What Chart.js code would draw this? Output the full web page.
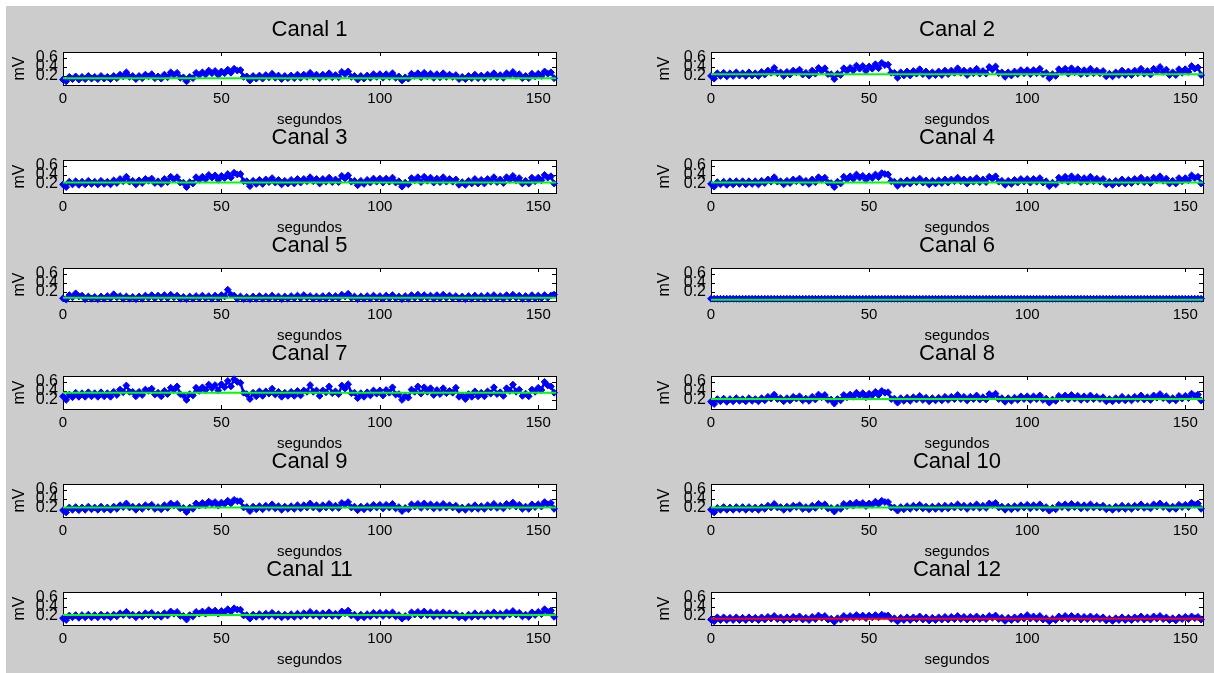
<!DOCTYPE html>
<html>
<head>
<meta charset="utf-8">
<script src="https://cdn.jsdelivr.net/npm/chart.js@4/dist/chart.umd.min.js"></script>
<style>
  html, body { margin: 0; padding: 0; background: #ffffff; }
  body { width: 1214px; height: 673px; position: relative; overflow: hidden; }
  #fig { position: absolute; left: 6px; top: 6px; width: 1208px; height: 667px; background: #cccccc; }
  canvas.sub { position: absolute; }
</style>
</head>
<body>
<div id="fig"></div>
<script>
// Sample times (s)
const tiempo = [0,1,2,3,4,5,6,7,8,9,10,11,12,13,14,15,16,17,18,19,20,21,22,23,24,25,26,27,28,29,
  30,31,32,33,34,35,36,37,38,39,40,41,42,43,44,45,46,47,48,49,50,51,52,53,54,55,56,57,58,59,
  60,61,62,63,64,65,66,67,68,69,70,71,72,73,74,75,76,77,78,79,80,81,82,83,84,85,86,87,88,89,
  90,91,92,93,94,95,96,97,98,99,100,101,102,103,104,105,106,107,108,109,110,111,112,113,114,115,116,117,118,119,
  120,121,122,123,124,125,126,127,128,129,130,131,132,133,134,135,136,137,138,139,140,141,142,143,144,145,146,147,148,149,
  150,151,152,153,154,155];

// Channel amplitudes (mV)
const canal1 = [0.12,0.08,0.18,0.13,0.19,0.12,0.18,0.13,0.2,0.14, 0.18,0.13,0.2,0.14,0.18,0.13,0.2,0.15,0.23,0.19,
  0.28,0.18,0.2,0.13,0.2,0.15,0.23,0.19,0.24,0.15, 0.19,0.14,0.23,0.17,0.28,0.22,0.27,0.16,0.17,0.08,
  0.18,0.15,0.27,0.22,0.28,0.23,0.32,0.26,0.31,0.22, 0.3,0.26,0.34,0.27,0.36,0.32,0.33,0.18,0.19,0.1,
  0.2,0.14,0.21,0.14,0.22,0.17,0.25,0.16,0.21,0.13, 0.2,0.15,0.21,0.15,0.23,0.16,0.23,0.18,0.27,0.18,
  0.23,0.15,0.23,0.18,0.26,0.17,0.22,0.17,0.29,0.24, 0.3,0.18,0.2,0.12,0.2,0.14,0.21,0.16,0.24,0.18,
  0.24,0.16,0.24,0.18,0.26,0.16,0.19,0.1,0.17,0.14, 0.25,0.2,0.26,0.17,0.27,0.19,0.25,0.16,0.24,0.17,
  0.26,0.18,0.23,0.18,0.22,0.13,0.18,0.13,0.2,0.15, 0.23,0.15,0.21,0.15,0.23,0.18,0.26,0.17,0.22,0.16,
  0.26,0.21,0.29,0.2,0.24,0.15,0.2,0.15,0.25,0.19, 0.25,0.2,0.3,0.25,0.28,0.15];
const canal2 = [0.2,0.14,0.26,0.2,0.27,0.19,0.26,0.2,0.28,0.21, 0.26,0.2,0.28,0.21,0.26,0.2,0.29,0.23,0.32,0.27,
  0.38,0.26,0.28,0.2,0.29,0.23,0.32,0.28,0.34,0.23, 0.27,0.21,0.32,0.25,0.38,0.31,0.37,0.24,0.24,0.13,
  0.25,0.22,0.37,0.31,0.38,0.32,0.43,0.36,0.42,0.31, 0.41,0.36,0.46,0.37,0.49,0.44,0.45,0.27,0.27,0.16,
  0.28,0.21,0.3,0.21,0.31,0.25,0.35,0.24,0.3,0.2, 0.28,0.22,0.3,0.22,0.32,0.24,0.32,0.27,0.37,0.27,
  0.32,0.22,0.32,0.26,0.36,0.25,0.31,0.25,0.4,0.34, 0.41,0.26,0.28,0.18,0.28,0.21,0.3,0.24,0.33,0.26,
  0.33,0.24,0.33,0.26,0.36,0.24,0.27,0.15,0.24,0.2, 0.35,0.29,0.36,0.25,0.37,0.28,0.35,0.24,0.33,0.25,
  0.36,0.26,0.32,0.26,0.31,0.19,0.25,0.19,0.28,0.22, 0.32,0.22,0.3,0.22,0.32,0.26,0.36,0.25,0.31,0.23,
  0.36,0.3,0.4,0.29,0.34,0.22,0.28,0.22,0.35,0.27, 0.35,0.29,0.42,0.36,0.39,0.22];
const canal3 = [0.19,0.13,0.25,0.19,0.26,0.18,0.25,0.19,0.27,0.2, 0.25,0.19,0.27,0.2,0.25,0.19,0.28,0.22,0.31,0.26,
  0.36,0.25,0.27,0.19,0.28,0.22,0.31,0.27,0.32,0.22, 0.26,0.2,0.31,0.24,0.36,0.3,0.35,0.23,0.23,0.13,
  0.24,0.21,0.35,0.29,0.36,0.3,0.4,0.34,0.39,0.29, 0.38,0.33,0.42,0.34,0.45,0.41,0.42,0.26,0.26,0.15,
  0.27,0.2,0.29,0.2,0.3,0.24,0.33,0.23,0.29,0.19, 0.27,0.21,0.29,0.21,0.31,0.23,0.31,0.26,0.35,0.26,
  0.31,0.21,0.31,0.25,0.34,0.24,0.3,0.24,0.38,0.32, 0.39,0.25,0.27,0.17,0.27,0.2,0.29,0.23,0.32,0.25,
  0.32,0.23,0.32,0.25,0.34,0.23,0.26,0.14,0.23,0.19, 0.33,0.28,0.35,0.24,0.36,0.27,0.34,0.23,0.32,0.24,
  0.35,0.25,0.31,0.25,0.3,0.18,0.24,0.18,0.27,0.21, 0.31,0.21,0.29,0.21,0.31,0.25,0.35,0.24,0.3,0.22,
  0.35,0.29,0.38,0.28,0.33,0.21,0.27,0.21,0.34,0.26, 0.34,0.28,0.4,0.34,0.37,0.21];
const canal4 = [0.2,0.14,0.24,0.19,0.25,0.18,0.26,0.19,0.26,0.2, 0.26,0.19,0.26,0.2,0.26,0.19,0.27,0.22,0.3,0.25,
  0.35,0.25,0.26,0.19,0.27,0.22,0.3,0.26,0.32,0.23, 0.27,0.2,0.3,0.24,0.35,0.29,0.34,0.23,0.22,0.13,
  0.25,0.21,0.36,0.3,0.37,0.31,0.41,0.34,0.38,0.29, 0.37,0.33,0.41,0.35,0.44,0.42,0.41,0.26,0.25,0.16,
  0.26,0.2,0.28,0.21,0.29,0.24,0.32,0.23,0.28,0.19, 0.27,0.21,0.28,0.22,0.3,0.23,0.3,0.26,0.34,0.26,
  0.3,0.21,0.3,0.25,0.33,0.24,0.3,0.24,0.36,0.31, 0.37,0.25,0.27,0.18,0.27,0.2,0.29,0.23,0.31,0.25,
  0.31,0.23,0.31,0.25,0.33,0.23,0.26,0.15,0.23,0.19, 0.34,0.28,0.36,0.25,0.37,0.28,0.35,0.24,0.33,0.25,
  0.36,0.26,0.32,0.25,0.31,0.19,0.25,0.18,0.27,0.21, 0.3,0.21,0.29,0.22,0.31,0.25,0.34,0.24,0.3,0.22,
  0.34,0.28,0.37,0.27,0.32,0.21,0.27,0.21,0.33,0.26, 0.33,0.28,0.39,0.33,0.36,0.21];
const canal5 = [0.06,0.03,0.13,0.08,0.17,0.1,0.12,0.04,0.1,0.05, 0.09,0.04,0.1,0.05,0.11,0.06,0.15,0.08,0.11,0.05,
  0.1,0.05,0.09,0.04,0.1,0.05,0.12,0.07,0.13,0.06, 0.12,0.07,0.13,0.06,0.14,0.08,0.12,0.05,0.09,0.04,
  0.1,0.05,0.11,0.06,0.12,0.06,0.11,0.05,0.12,0.06, 0.13,0.1,0.25,0.14,0.12,0.05,0.1,0.04,0.09,0.04,
  0.1,0.05,0.11,0.05,0.1,0.05,0.12,0.06,0.1,0.04, 0.1,0.05,0.11,0.06,0.12,0.06,0.13,0.07,0.11,0.05,
  0.1,0.05,0.11,0.05,0.12,0.06,0.11,0.06,0.14,0.1, 0.16,0.07,0.1,0.04,0.1,0.05,0.11,0.05,0.12,0.06,
  0.11,0.05,0.12,0.06,0.13,0.06,0.1,0.04,0.11,0.05, 0.13,0.07,0.14,0.06,0.13,0.07,0.12,0.05,0.13,0.06,
  0.14,0.07,0.12,0.06,0.11,0.05,0.1,0.04,0.11,0.05, 0.12,0.06,0.11,0.05,0.12,0.06,0.13,0.06,0.11,0.05,
  0.13,0.07,0.14,0.07,0.12,0.05,0.11,0.05,0.13,0.06, 0.12,0.06,0.13,0.07,0.12,0.14];
const canal6 = [0.05,0.05,0.05,0.05,0.05,0.05,0.05,0.05,0.05,0.05, 0.05,0.05,0.05,0.05,0.05,0.05,0.05,0.05,0.05,0.05,
  0.05,0.05,0.05,0.05,0.05,0.05,0.05,0.05,0.05,0.05, 0.05,0.05,0.05,0.05,0.05,0.05,0.05,0.05,0.05,0.05,
  0.05,0.05,0.05,0.05,0.05,0.05,0.05,0.05,0.05,0.05, 0.05,0.05,0.05,0.05,0.05,0.05,0.05,0.05,0.05,0.05,
  0.05,0.05,0.05,0.05,0.05,0.05,0.05,0.05,0.05,0.05, 0.05,0.05,0.05,0.05,0.05,0.05,0.05,0.05,0.05,0.05,
  0.05,0.05,0.05,0.05,0.05,0.05,0.05,0.05,0.05,0.05, 0.05,0.05,0.05,0.05,0.05,0.05,0.05,0.05,0.05,0.05,
  0.05,0.05,0.05,0.05,0.05,0.05,0.05,0.05,0.05,0.05, 0.05,0.05,0.05,0.05,0.05,0.05,0.05,0.05,0.05,0.05,
  0.05,0.05,0.05,0.05,0.05,0.05,0.05,0.05,0.05,0.05, 0.05,0.05,0.05,0.05,0.05,0.05,0.05,0.05,0.05,0.05,
  0.05,0.05,0.05,0.05,0.05,0.05,0.05,0.05,0.05,0.05, 0.05,0.05,0.05,0.05,0.05,0.05];
const canal7 = [0.28,0.2,0.32,0.26,0.36,0.27,0.35,0.27,0.37,0.28, 0.35,0.27,0.37,0.28,0.35,0.27,0.38,0.31,0.43,0.37,
  0.52,0.38,0.38,0.28,0.38,0.31,0.43,0.4,0.45,0.32, 0.36,0.28,0.4,0.33,0.47,0.42,0.5,0.33,0.3,0.2,
  0.33,0.3,0.47,0.4,0.48,0.42,0.54,0.46,0.53,0.41, 0.55,0.48,0.62,0.5,0.66,0.6,0.58,0.36,0.33,0.22,
  0.36,0.28,0.39,0.29,0.39,0.34,0.45,0.32,0.38,0.27, 0.36,0.29,0.38,0.29,0.4,0.3,0.41,0.38,0.53,0.38,
  0.41,0.29,0.41,0.37,0.5,0.35,0.39,0.33,0.52,0.45, 0.55,0.35,0.36,0.24,0.35,0.27,0.37,0.3,0.41,0.34,
  0.41,0.3,0.42,0.36,0.48,0.32,0.33,0.2,0.29,0.25, 0.43,0.38,0.5,0.34,0.48,0.38,0.46,0.31,0.42,0.33,
  0.46,0.35,0.4,0.36,0.47,0.27,0.3,0.22,0.33,0.27, 0.39,0.28,0.36,0.28,0.39,0.34,0.48,0.33,0.37,0.29,
  0.46,0.4,0.54,0.38,0.43,0.29,0.34,0.28,0.43,0.38, 0.47,0.42,0.6,0.52,0.5,0.36];
const canal8 = [0.16,0.11,0.22,0.17,0.23,0.16,0.22,0.17,0.24,0.18, 0.22,0.17,0.24,0.18,0.22,0.17,0.24,0.19,0.27,0.23,
  0.32,0.22,0.24,0.17,0.24,0.19,0.27,0.23,0.28,0.19, 0.23,0.18,0.27,0.21,0.32,0.26,0.31,0.2,0.21,0.12,
  0.22,0.19,0.31,0.26,0.32,0.27,0.36,0.3,0.35,0.26, 0.34,0.3,0.38,0.31,0.4,0.36,0.37,0.22,0.23,0.14,
  0.24,0.18,0.25,0.18,0.26,0.21,0.29,0.2,0.25,0.17, 0.24,0.19,0.25,0.19,0.27,0.2,0.27,0.22,0.31,0.22,
  0.27,0.19,0.27,0.22,0.3,0.21,0.26,0.21,0.33,0.28, 0.34,0.22,0.24,0.16,0.24,0.18,0.25,0.2,0.28,0.22,
  0.28,0.2,0.28,0.22,0.3,0.2,0.23,0.14,0.21,0.18, 0.29,0.24,0.3,0.21,0.31,0.23,0.29,0.2,0.28,0.21,
  0.3,0.22,0.27,0.22,0.26,0.17,0.22,0.17,0.24,0.19, 0.27,0.19,0.25,0.19,0.27,0.22,0.3,0.21,0.26,0.2,
  0.3,0.25,0.33,0.24,0.28,0.19,0.24,0.19,0.29,0.23, 0.29,0.24,0.34,0.29,0.32,0.19];
const canal9 = [0.15,0.1,0.21,0.16,0.22,0.15,0.21,0.16,0.23,0.17, 0.21,0.16,0.23,0.17,0.21,0.16,0.23,0.18,0.26,0.22,
  0.3,0.21,0.23,0.16,0.23,0.18,0.26,0.22,0.27,0.18, 0.22,0.17,0.26,0.2,0.3,0.25,0.29,0.19,0.2,0.11,
  0.21,0.18,0.3,0.25,0.31,0.26,0.34,0.29,0.33,0.25, 0.32,0.29,0.36,0.3,0.38,0.35,0.35,0.21,0.22,0.13,
  0.23,0.17,0.24,0.17,0.25,0.2,0.28,0.19,0.24,0.16, 0.23,0.18,0.24,0.18,0.26,0.19,0.26,0.21,0.3,0.21,
  0.26,0.18,0.26,0.21,0.29,0.2,0.25,0.2,0.31,0.27, 0.33,0.21,0.23,0.15,0.23,0.17,0.24,0.19,0.27,0.21,
  0.27,0.19,0.27,0.21,0.29,0.19,0.22,0.13,0.2,0.17, 0.28,0.23,0.29,0.2,0.3,0.22,0.28,0.19,0.27,0.2,
  0.29,0.21,0.26,0.21,0.25,0.16,0.21,0.16,0.23,0.18, 0.26,0.18,0.24,0.18,0.26,0.21,0.29,0.2,0.25,0.19,
  0.29,0.24,0.32,0.23,0.27,0.18,0.23,0.18,0.28,0.22, 0.28,0.23,0.33,0.28,0.31,0.18];
const canal10 = [0.16,0.1,0.2,0.16,0.22,0.16,0.21,0.16,0.22,0.17, 0.22,0.16,0.22,0.17,0.21,0.16,0.22,0.18,0.25,0.21,
  0.29,0.21,0.22,0.16,0.23,0.18,0.25,0.22,0.26,0.18, 0.22,0.17,0.25,0.2,0.29,0.24,0.28,0.19,0.2,0.12,
  0.21,0.18,0.29,0.24,0.3,0.25,0.32,0.27,0.31,0.24, 0.3,0.27,0.34,0.28,0.36,0.33,0.33,0.21,0.21,0.14,
  0.22,0.17,0.24,0.18,0.25,0.2,0.27,0.19,0.23,0.17, 0.23,0.18,0.24,0.18,0.25,0.19,0.25,0.21,0.28,0.21,
  0.25,0.18,0.25,0.21,0.28,0.2,0.25,0.2,0.3,0.26, 0.31,0.21,0.23,0.16,0.23,0.17,0.24,0.19,0.26,0.21,
  0.27,0.19,0.26,0.21,0.28,0.19,0.22,0.14,0.2,0.17, 0.27,0.22,0.28,0.2,0.29,0.22,0.27,0.19,0.26,0.2,
  0.28,0.21,0.25,0.21,0.25,0.17,0.21,0.16,0.23,0.18, 0.25,0.18,0.24,0.18,0.25,0.21,0.28,0.2,0.24,0.19,
  0.28,0.23,0.3,0.22,0.26,0.18,0.23,0.18,0.27,0.22, 0.27,0.22,0.31,0.27,0.3,0.18];
const canal11 = [0.15,0.11,0.21,0.17,0.22,0.16,0.22,0.17,0.23,0.17, 0.22,0.17,0.23,0.18,0.22,0.17,0.23,0.19,0.26,0.22,
  0.29,0.21,0.23,0.17,0.23,0.19,0.26,0.22,0.27,0.19, 0.23,0.18,0.26,0.21,0.3,0.25,0.29,0.2,0.2,0.12,
  0.22,0.19,0.29,0.25,0.3,0.25,0.33,0.28,0.32,0.25, 0.31,0.28,0.35,0.29,0.37,0.34,0.34,0.21,0.22,0.14,
  0.23,0.18,0.24,0.18,0.25,0.2,0.27,0.19,0.24,0.17, 0.23,0.18,0.24,0.18,0.25,0.19,0.26,0.21,0.29,0.21,
  0.26,0.19,0.26,0.21,0.28,0.2,0.25,0.2,0.3,0.26, 0.32,0.21,0.23,0.16,0.23,0.17,0.24,0.19,0.27,0.21,
  0.27,0.2,0.27,0.21,0.28,0.19,0.22,0.14,0.2,0.17, 0.28,0.23,0.29,0.21,0.3,0.22,0.28,0.19,0.27,0.2,
  0.28,0.21,0.26,0.21,0.25,0.17,0.21,0.16,0.23,0.18, 0.26,0.19,0.24,0.19,0.26,0.21,0.28,0.2,0.25,0.19,
  0.28,0.23,0.31,0.23,0.27,0.19,0.23,0.18,0.28,0.22, 0.29,0.24,0.35,0.29,0.32,0.18];
const canal12 = [0.12,0.08,0.17,0.11,0.17,0.11,0.16,0.11,0.17,0.11, 0.16,0.11,0.17,0.12,0.16,0.11,0.17,0.12,0.18,0.14,
  0.2,0.13,0.17,0.11,0.17,0.12,0.18,0.14,0.19,0.12, 0.16,0.11,0.18,0.13,0.21,0.16,0.2,0.12,0.14,0.07,
  0.15,0.12,0.2,0.15,0.2,0.16,0.22,0.17,0.21,0.15, 0.21,0.17,0.22,0.17,0.23,0.2,0.21,0.13,0.15,0.08,
  0.16,0.11,0.17,0.11,0.17,0.13,0.19,0.12,0.17,0.1, 0.16,0.11,0.17,0.12,0.18,0.12,0.18,0.13,0.2,0.13,
  0.18,0.12,0.18,0.13,0.19,0.13,0.17,0.13,0.2,0.16, 0.21,0.13,0.16,0.09,0.16,0.11,0.17,0.12,0.19,0.14,
  0.22,0.14,0.19,0.13,0.2,0.12,0.15,0.08,0.14,0.11, 0.19,0.14,0.2,0.13,0.2,0.14,0.19,0.12,0.18,0.13,
  0.19,0.13,0.18,0.13,0.17,0.1,0.14,0.09,0.15,0.11, 0.17,0.11,0.16,0.11,0.17,0.13,0.19,0.12,0.17,0.12,
  0.19,0.14,0.2,0.13,0.17,0.11,0.15,0.1,0.17,0.13, 0.18,0.13,0.19,0.15,0.18,0.12];

// Reference level per channel (mV) and its line colour
const nivel = [0.15, 0.24, 0.23, 0.23, 0.07, 0.03, 0.36, 0.22, 0.21, 0.21, 0.22, 0.14];
const colorNivel = ['#00ff00','#00ff00','#00ff00','#00ff00','#00ff00','#00ff00',
                    '#00ff00','#00ff00','#00ff00','#00ff00','#00ff00','#ff0000'];
const canales = [canal1, canal2, canal3, canal4, canal5, canal6, canal7, canal8, canal9, canal10, canal11, canal12];
const titulos = ['Canal 1','Canal 2','Canal 3','Canal 4','Canal 5','Canal 6',
                 'Canal 7','Canal 8','Canal 9','Canal 10','Canal 11','Canal 12'];

const xTicks = [0, 50, 100, 150];
const yTicks = [0.2, 0.4, 0.6];
const xMax = 155.6;
const yMin = 0, yMax = 0.73;

const FONT = '"Liberation Sans", Arial, Helvetica, sans-serif';

// White axes background, black box and inward tick marks on all four sides
const ejesMatlab = {
  id: 'ejesMatlab',
  beforeDraw(chart) {
    const a = chart.chartArea, c = chart.ctx;
    c.save();
    c.fillStyle = '#ffffff';
    c.fillRect(a.left, a.top, a.right - a.left, a.bottom - a.top);
    c.restore();
  },
  beforeDatasetsDraw(chart) {
    const a = chart.chartArea, c = chart.ctx;
    const xs = chart.scales.x, ys = chart.scales.y;
    const L = 4;
    c.save();
    c.strokeStyle = '#000000';
    c.lineWidth = 1;
    c.beginPath();
    xs.ticks.forEach(t => {
      const px = Math.round(xs.getPixelForValue(t.value)) + 0.5;
      c.moveTo(px, a.bottom); c.lineTo(px, a.bottom - L);
      c.moveTo(px, a.top); c.lineTo(px, a.top + L);
    });
    ys.ticks.forEach(t => {
      const py = Math.round(ys.getPixelForValue(t.value)) + 0.5;
      c.moveTo(a.left, py); c.lineTo(a.left + L, py);
      c.moveTo(a.right, py); c.lineTo(a.right - L, py);
    });
    c.stroke();
    c.strokeRect(Math.round(a.left) + 0.5, Math.round(a.top) + 0.5,
                 Math.round(a.right - a.left), Math.round(a.bottom - a.top));
    c.restore();
  }
};

const PLOT_H = 33, TITLE_H = 35, XAXIS_H = 45;
const filaTop = [52, 160, 268, 376, 484, 592];
const columnas = [
  { canvasLeft: 0,   yWidth: 63,  padRight: 51, mvPad: 11 },
  { canvasLeft: 607, yWidth: 104, padRight: 11, mvPad: 49 }
];

canales.forEach((serie, i) => {
  const col = columnas[i % 2];
  const top = filaTop[Math.floor(i / 2)] - TITLE_H;
  const cv = document.createElement('canvas');
  cv.className = 'sub';
  cv.width = 607; cv.height = TITLE_H + PLOT_H + XAXIS_H;
  cv.style.left = col.canvasLeft + 'px';
  cv.style.top = top + 'px';
  cv.style.width = '607px';
  cv.style.height = cv.height + 'px';
  document.body.appendChild(cv);

  const puntos = tiempo.map((t, k) => ({ x: t, y: serie[k] }));
  const linea = [{ x: 0, y: nivel[i] }, { x: xMax, y: nivel[i] }];

  new Chart(cv.getContext('2d'), {
    type: 'line',
    data: {
      datasets: [
        { data: linea, borderColor: colorNivel[i], borderWidth: 2, pointRadius: 0, order: 0, clip: false },
        { data: puntos, borderColor: '#0000ff', backgroundColor: '#0000ff', borderWidth: 2.5,
          pointStyle: 'rectRot', pointRadius: 3.4, pointBorderWidth: 1, order: 1, clip: false, tension: 0 }
      ]
    },
    options: {
      responsive: false,
      animation: false,
      events: [],
      layout: { autoPadding: false, padding: { left: 0, right: col.padRight, top: 0, bottom: 0 } },
      plugins: {
        legend: { display: false },
        tooltip: { enabled: false },
        title: {
          display: true, text: titulos[i], fullSize: false, color: '#000000',
          font: { family: FONT, size: 22, weight: 'normal', lineHeight: 1.2 },
          padding: { top: 0, bottom: 8.6 }
        }
      },
      scales: {
        x: {
          type: 'linear', min: 0, max: xMax,
          afterBuildTicks: s => { s.ticks = xTicks.map(v => ({ value: v })); },
          afterFit: s => { s.height = XAXIS_H; },
          grid: { display: false, drawTicks: false },
          border: { display: false },
          ticks: { autoSkip: false, maxRotation: 0, padding: 5, color: '#000000',
                   font: { family: FONT, size: 15 }, callback: v => String(v) },
          title: { display: true, text: 'segundos', color: '#000000',
                   font: { family: FONT, size: 15, lineHeight: 1.2 }, padding: { top: 0, bottom: 1 } }
        },
        y: {
          type: 'linear', min: yMin, max: yMax,
          afterBuildTicks: s => { s.ticks = yTicks.map(v => ({ value: v })); },
          afterFit: s => { s.width = col.yWidth; },
          grid: { display: false, drawTicks: false },
          border: { display: false },
          ticks: { autoSkip: false, padding: 5, color: '#000000',
                   font: { family: FONT, size: 16 }, callback: v => String(v) },
          title: { display: true, text: 'mV', color: '#000000',
                   font: { family: FONT, size: 16, lineHeight: 1.2 }, padding: { top: col.mvPad - 1, bottom: 0 } }
        }
      }
    },
    plugins: [ejesMatlab]
  });
});
</script>
</body>
</html>
